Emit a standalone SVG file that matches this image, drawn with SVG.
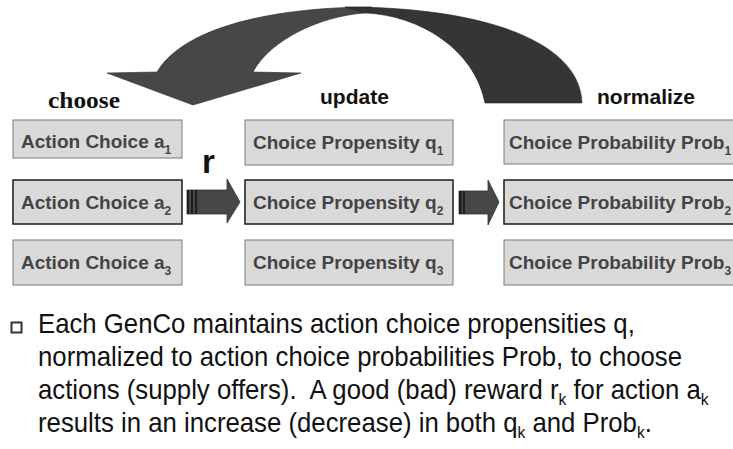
<svg xmlns="http://www.w3.org/2000/svg" width="733" height="449" viewBox="0 0 733 449">
<style>
.box{fill:#d9d9d9;stroke:#7a7a7a;stroke-width:1}
.box2{fill:#d9d9d9;stroke:#1a1a1a;stroke-width:1.5}
.lbl{font-family:"Liberation Sans",Arial,sans-serif;font-weight:bold;font-size:19px;fill:#444}
.sub{font-size:12px}
.hd{font-family:"Liberation Sans",Arial,sans-serif;font-weight:bold;font-size:21px;fill:#111}
.body{font-family:"Liberation Sans",Arial,sans-serif;font-size:28px;fill:#111}
.bsub{font-size:17px}
.arr{fill:#474747}
.arr2{fill:#353535}
.stripe{fill:#1e1e1e}
</style>
<rect width="733" height="449" fill="#fff"/>

<g id="connectors">
  <path class="arr" d="M157,72 C185,25 280,7 372,7 L365,13 C320,16 270,40 253,72 L301,73 L193,105 L107,73 Z" stroke="#2a2a2a" stroke-width="0.6"/>
  <path class="arr2" d="M345,7 C480,7 580,40 582,103 L485,103 C475,50 420,15 365,13 Z" stroke="#222" stroke-width="0.6"/>
  <g id="arrow-r">
    <path class="arr" d="M187,190 L227,190 L227,179 L240,202 L227,223 L227,214 L187,214 Z" stroke="#333" stroke-width="0.8"/>
    <rect class="stripe" x="187" y="190" width="2" height="24"/>
    <rect class="stripe" x="191" y="190" width="2" height="24"/>
    <rect class="stripe" x="195" y="190" width="2" height="24"/>
  </g>
  <g id="arrow-norm">
    <path class="arr" d="M459,191 L488,191 L488,180 L499,202 L488,225 L488,214 L459,214 Z" stroke="#333" stroke-width="0.8"/>
    <rect class="stripe" x="459" y="191" width="2.5" height="23"/>
    <rect class="stripe" x="463" y="191" width="2" height="23"/>
  </g>
</g>

<g id="headings">
  <text x="48" y="108" font-family="'Liberation Serif','Times New Roman',serif" font-weight="bold" font-size="24" fill="#111" textLength="72" lengthAdjust="spacingAndGlyphs">choose</text>
  <text class="hd" x="320" y="104">update</text>
  <text class="hd" x="597" y="104">normalize</text>
  <text x="202" y="173" font-family="'Liberation Sans',Arial,sans-serif" font-weight="bold" font-size="33" fill="#111">r</text>
</g>

<g id="action1"><rect class="box" x="13" y="120" width="169" height="38"/><text class="lbl" x="21" y="148">Action Choice a<tspan class="sub" dy="6">1</tspan></text></g>
<g id="action2"><rect class="box2" x="13" y="180" width="169" height="44"/><text class="lbl" x="21" y="209">Action Choice a<tspan class="sub" dy="6">2</tspan></text></g>
<g id="action3"><rect class="box" x="13" y="240" width="169" height="45"/><text class="lbl" x="21" y="269">Action Choice a<tspan class="sub" dy="6">3</tspan></text></g>

<g id="prop1"><rect class="box" x="245" y="120" width="208" height="45"/><text class="lbl" x="253" y="149">Choice Propensity q<tspan class="sub" dy="6">1</tspan></text></g>
<g id="prop2"><rect class="box2" x="245" y="180" width="208" height="44"/><text class="lbl" x="253" y="209">Choice Propensity q<tspan class="sub" dy="6">2</tspan></text></g>
<g id="prop3"><rect class="box" x="245" y="240" width="208" height="45"/><text class="lbl" x="253" y="269">Choice Propensity q<tspan class="sub" dy="6">3</tspan></text></g>

<g id="prob1"><rect class="box" x="504" y="120" width="240" height="44"/><text class="lbl" x="509" y="149">Choice Probability Prob<tspan class="sub" dy="6">1</tspan></text></g>
<g id="prob2"><rect class="box2" x="504" y="180" width="240" height="44"/><text class="lbl" x="509" y="209">Choice Probability Prob<tspan class="sub" dy="6">2</tspan></text></g>
<g id="prob3"><rect class="box" x="504" y="240" width="240" height="45"/><text class="lbl" x="509" y="269">Choice Probability Prob<tspan class="sub" dy="6">3</tspan></text></g>

<g id="note">
  <rect x="11.5" y="322.5" width="10" height="10" fill="none" stroke="#333" stroke-width="2"/>
  <g transform="translate(38,0) scale(0.92,1)">
    <text class="body" x="0" y="333">Each GenCo maintains action choice propensities q,</text>
    <text class="body" x="0" y="366">normalized to action choice probabilities Prob, to choose</text>
    <text class="body" x="0" y="399">actions (supply offers).&#160; A good (bad) reward r<tspan class="bsub" dy="6">k</tspan><tspan dy="-6"> for action a</tspan><tspan class="bsub" dy="6">k</tspan></text>
    <text class="body" x="0" y="432">results in an increase (decrease) in both q<tspan class="bsub" dy="6">k</tspan><tspan dy="-6"> and Prob</tspan><tspan class="bsub" dy="6">k</tspan><tspan dy="-6">.</tspan></text>
  </g>
</g>
</svg>
